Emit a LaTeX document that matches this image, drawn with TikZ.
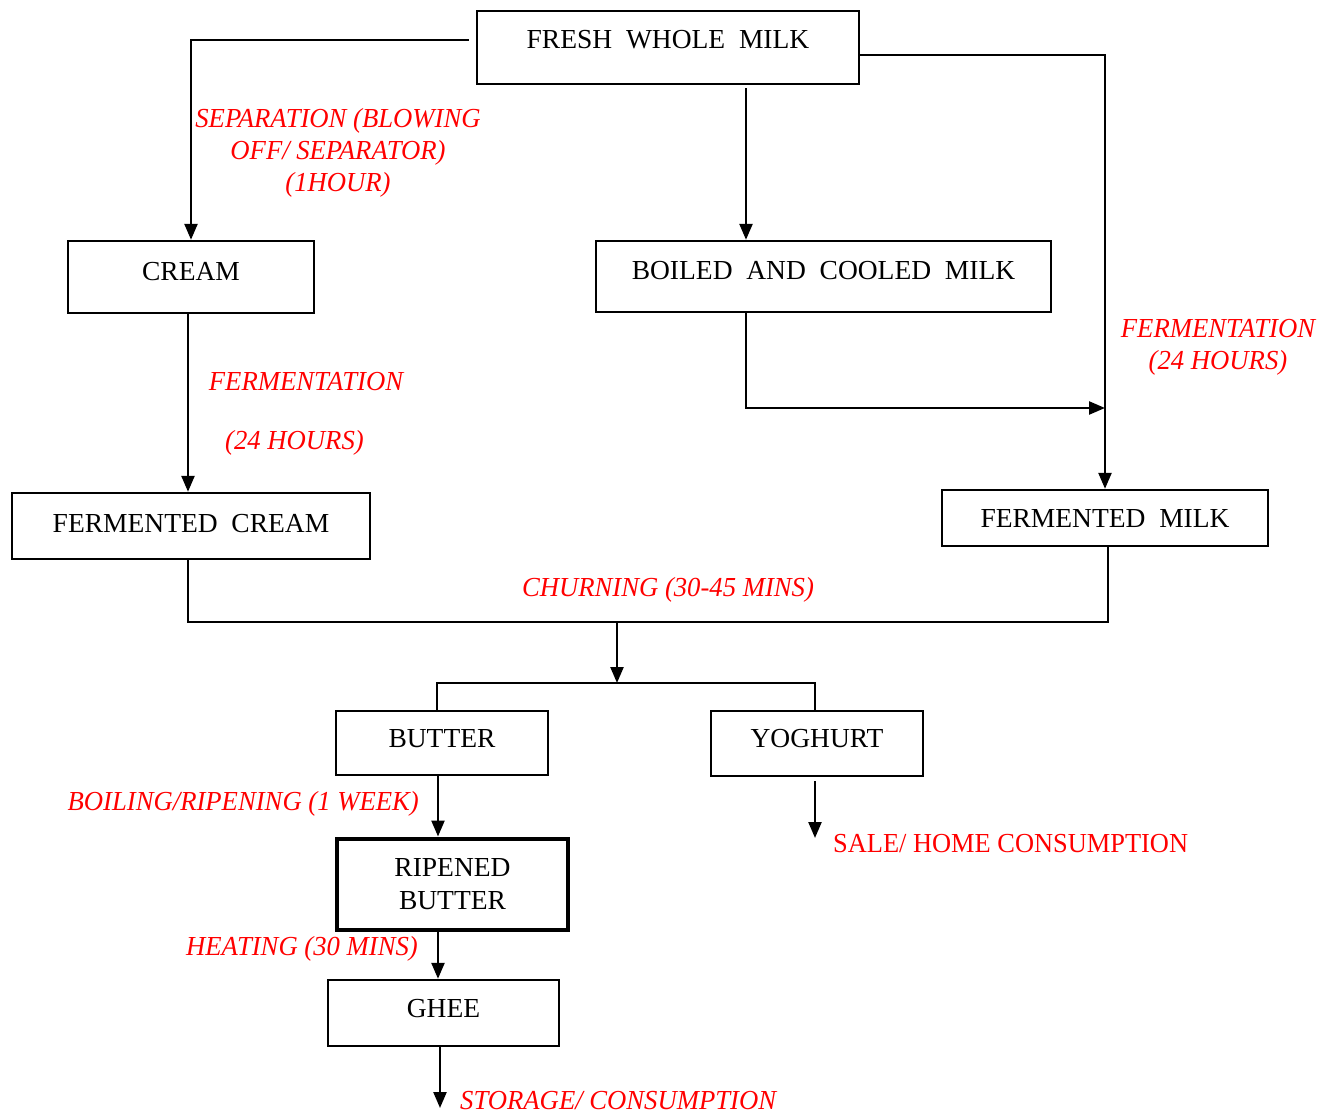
\documentclass[tikz,border=0pt]{standalone}
\usepackage{fontspec}
\setmainfont{Liberation Serif}
\newfontfamily\labfont[FakeStretch=0.97]{Liberation Serif}
\newfontfamily\salefont[FakeStretch=0.96]{Liberation Serif}
\usetikzlibrary{arrows.meta}
\begin{document}
\begin{tikzpicture}[x=1pt,y=-1pt,
  box/.style={draw, line width=2.4pt, inner sep=0pt, font=\fontsize{27.5}{32}\selectfont, text height=19pt},
  lab/.style={text=red, inner sep=0pt, font=\labfont\fontsize{27.5}{32}\selectfont\itshape},
  one/.style={text height=19pt, text depth=0pt},
  flow/.style={line width=2.4pt},
  arr/.style={line width=2.4pt, -{Triangle[length=16pt,width=13pt]}}]
\useasboundingbox (0,0) rectangle (1334,1115);

% boxes
\node[box, minimum width=382pt, minimum height=73pt, text depth=17pt] (fresh) at (668,47.5) {FRESH\ \ WHOLE\ \ MILK};
\node[box, minimum width=246pt, minimum height=72pt, text depth=12pt] (cream) at (191,277) {CREAM};
\node[box, minimum width=455pt, minimum height=71pt, text depth=13pt] (boiled) at (823.5,276.5) {BOILED\ \ AND\ \ COOLED\ \ MILK};
\node[box, minimum width=358pt, minimum height=66pt, text depth=7pt] (fcream) at (191,526) {FERMENTED\ \ CREAM};
\node[box, minimum width=326pt, minimum height=56pt, text depth=0pt] (fmilk) at (1105,518) {FERMENTED\ \ MILK};
\node[box, minimum width=212pt, minimum height=64pt, text depth=10pt] (butter) at (442,743) {BUTTER};
\node[box, minimum width=212pt, minimum height=65pt, text depth=11pt] (yoghurt) at (817,743.5) {YOGHURT};
\node[draw, line width=4pt, inner sep=0pt, font=\fontsize{27.5}{33}\selectfont, align=center, minimum width=231pt, minimum height=91pt] (ripened) at (452.5,884) {RIPENED\\BUTTER};
\node[box, minimum width=231pt, minimum height=66pt, text depth=11pt] (ghee) at (443.5,1013) {GHEE};

% labels
\node[lab, align=center] (lsep) at (338,153) {SEPARATION (BLOWING\\OFF/ SEPARATOR)\\(1HOUR)};
\node[lab, one] (lfer1a) at (306,381) {FERMENTATION};
\node[lab, one] (lfer1b) at (294.5,440) {(24 HOURS)};
\node[lab, align=center] (lfer2) at (1218,347) {FERMENTATION\\(24 HOURS)};
\node[lab, one] (lchurn) at (668,587) {CHURNING (30-45 MINS)};
\node[lab, one, anchor=east] (lboil) at (419,801) {BOILING/RIPENING (1 WEEK)};
\node[lab, one, anchor=west, font=\salefont\fontsize{27.5}{32}\selectfont\upshape] (lsale) at (833,843) {SALE/ HOME CONSUMPTION};
\node[lab, one, anchor=east] (lheat) at (418,946) {HEATING (30 MINS)};
\node[lab, one, anchor=west] (lstore) at (460,1100) {STORAGE/ CONSUMPTION};

% coordinates
\coordinate (j1) at (1105,408);
\coordinate (bus) at (617,622);
\coordinate (split) at (617,683);
\coordinate (salept) at (815,838);
\coordinate (storept) at (440,1108);

% connectors
\draw[arr] ([xshift=-7pt,yshift=7.5pt]fresh.west) -| (cream.north);
\draw[arr] ([xshift=78pt,yshift=-3pt]fresh.south) -- ([xshift=78pt]fresh.south |- boiled.north);
\draw[arr] ([yshift=-7.5pt]fresh.east) -| (fmilk.north);
\draw[arr] ([xshift=-77.5pt]boiled.south) |- (j1);
\draw[arr] ([xshift=-3pt]cream.south) -- ([xshift=-3pt]fcream.north);
\draw[flow] ([xshift=-3pt]fcream.south) -- ([xshift=-3pt]fcream.south |- bus) -- ([xshift=3pt]fmilk.south |- bus) -- ([xshift=3pt]fmilk.south);
\draw[arr] (bus) -- (split);
\draw[flow] ([xshift=-5pt]butter.north) -- ([xshift=-5pt]butter.north |- split) -- ([xshift=-2pt]yoghurt.north |- split) -- ([xshift=-2pt]yoghurt.north);
\draw[arr] ([xshift=-4pt]butter.south) -- ([xshift=-4pt]butter.south |- ripened.north);
\draw[arr] ([xshift=-2pt,yshift=-4pt]yoghurt.south) -- (salept);
\draw[arr] ([xshift=-14.5pt]ripened.south) -- ([xshift=-14.5pt]ripened.south |- ghee.north);
\draw[arr] ([xshift=-3.5pt]ghee.south) -- (storept);
\end{tikzpicture}
\end{document}
